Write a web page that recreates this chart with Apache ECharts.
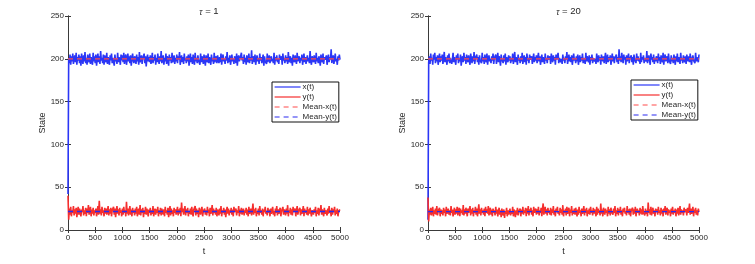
<!DOCTYPE html>
<html>
<head>
<meta charset="utf-8">
<script src="https://cdn.jsdelivr.net/npm/echarts@6/dist/echarts.min.js"></script>
<style>html,body{margin:0;padding:0;background:#fff}#c{width:755px;height:264px}</style>
</head>
<body>
<div id="c"></div>
<script>
// Sample step of the simulated time series (t = index * step)
var timeStep = 12.5;
var titles = ['1', '20'];
var xTicks = ['0','500','1000','1500','2000','2500','3000','3500','4000','4500','5000'];
var yTicks = ['0','50','100','150','200','250'];
var seriesNames = ['x(t)', 'y(t)', 'Mean-x(t)', 'Mean-y(t)'];

// tau = 1
var x1 = [42,
201,195,205,193,203,197,206,194,200,204,196,207,193,202,198,205,195,203,192,206,
199,194,204,197,208,195,201,193,205,199,196,206,194,202,200,193,207,197,203,195,
205,192,200,206,196,203,194,209,198,201,195,205,193,204,199,196,207,194,202,197,
193,204,198,206,195,201,203,192,205,197,200,194,207,196,202,199,193,205,198,204,
196,207,194,201,205,193,200,206,197,203,195,204,192,199,206,198,195,203,200,194,
205,197,202,193,208,196,200,204,194,201,199,206,195,203,191,200,205,197,202,196,
204,194,199,207,195,202,198,205,193,201,196,206,199,194,203,197,209,195,200,204,
193,201,197,206,194,203,199,192,205,198,202,195,207,196,200,204,194,201,197,205,
195,203,199,208,193,200,204,196,202,194,206,198,201,195,203,197,205,192,199,206,
196,202,194,205,199,193,207,197,201,195,204,198,200,193,206,196,203,199,194,205,
198,192,204,200,196,206,195,202,199,193,205,197,201,194,207,196,200,203,195,204,
199,195,202,196,206,193,201,205,197,200,194,203,198,208,195,201,196,204,193,199,
205,197,200,194,203,199,195,206,192,201,204,197,199,195,207,198,202,194,205,196,
201,193,204,199,196,206,195,202,198,210,194,200,203,196,205,193,199,204,197,201,
194,206,198,202,195,200,205,192,203,197,199,194,206,196,201,204,195,199,203,197,
200,195,207,193,202,198,204,196,200,194,205,199,197,203,193,206,198,201,195,204,
197,202,194,208,196,200,203,195,201,192,205,199,196,204,198,194,207,197,200,203,
195,201,198,205,193,200,206,196,202,194,199,204,197,201,195,209,198,193,203,200,
196,204,199,194,207,197,201,195,203,198,192,205,200,196,206,194,202,199,197,204,
193,200,205,196,202,199,211,195,201,204,194,199,206,197,200,193,203,198,205,199];
var y1 = [40,
12,25,18,27,16,23,20,28,17,24,19,26,15,22,27,18,25,20,16,24,
21,28,17,23,19,26,16,25,20,29,18,22,27,16,24,19,26,17,23,20,
25,16,22,28,18,34,19,24,17,27,20,23,16,26,19,25,18,22,28,17,
24,19,26,16,23,21,27,18,25,15,22,28,19,24,17,26,20,23,16,25,
18,27,20,23,16,33,19,25,17,22,28,18,24,16,26,20,23,17,25,19,
27,16,22,25,18,29,17,24,20,26,15,23,19,27,18,25,21,16,24,20,
26,17,23,19,28,16,22,25,18,24,20,27,16,23,19,26,17,25,21,18,
24,16,27,20,23,18,26,15,22,28,17,25,19,23,16,26,20,24,18,22,
27,17,24,19,26,16,32,21,25,18,23,28,17,24,20,26,16,22,19,25,
18,27,20,16,24,22,28,17,25,19,23,15,26,21,18,24,27,16,22,20,
25,18,23,17,27,20,24,16,26,19,22,29,17,25,20,23,18,26,16,24,
21,17,25,19,28,16,23,20,26,18,24,15,22,27,19,25,17,23,20,26,
18,24,16,27,21,19,25,17,23,20,28,16,24,19,26,18,22,25,17,23,
20,26,18,24,16,27,19,22,25,17,23,31,18,24,20,26,16,22,19,25,
17,28,20,23,18,25,16,24,21,27,19,22,17,26,20,24,16,25,19,23,
27,18,22,16,25,20,28,17,24,19,23,26,16,22,20,27,18,24,21,17,
25,19,29,16,23,20,26,18,24,17,27,21,19,25,16,23,28,18,22,20,
26,17,24,19,22,28,16,25,20,23,18,27,17,24,19,26,21,16,23,25,
18,24,20,27,16,23,19,26,17,25,22,29,18,24,20,16,26,19,23,21,
17,25,19,28,20,23,16,26,18,24,21,27,17,23,19,25,16,22,20,24];
// tau = 20
var x2 = [12,
196,203,194,206,198,201,193,205,199,207,195,202,197,204,193,200,206,196,203,198,
205,194,200,208,196,202,199,193,204,197,206,195,201,203,194,199,207,196,202,198,
193,204,199,206,195,201,197,205,192,200,203,196,207,198,202,194,205,199,196,204,
198,193,206,200,195,203,197,208,194,201,199,205,196,202,193,204,198,200,195,207,
197,202,194,205,199,196,206,193,201,204,197,200,195,203,198,206,194,201,199,205,
194,200,207,196,203,198,192,205,199,201,195,204,197,206,193,202,200,196,204,198,
203,195,201,197,206,194,200,208,196,202,199,193,205,198,201,195,203,197,207,194,
200,204,196,202,193,206,198,201,195,205,199,197,203,194,200,206,196,202,198,204,
195,201,207,197,203,193,199,205,196,202,200,194,206,198,201,195,204,199,197,203,
194,206,200,196,204,198,202,193,205,199,197,207,195,201,203,196,200,194,205,198,
201,195,203,199,208,194,200,205,197,202,196,204,193,199,206,198,201,195,203,197,
205,193,200,204,196,202,198,206,195,201,199,194,207,197,203,200,196,204,193,202,
198,205,195,201,203,197,200,194,206,199,196,204,198,202,193,205,200,197,203,195,
201,207,194,199,205,196,202,198,204,193,200,206,197,203,195,201,199,205,196,202,
194,211,198,203,196,207,200,195,205,199,202,193,204,197,201,206,195,200,198,204,
196,202,193,205,199,201,195,206,198,203,197,200,194,207,196,202,199,204,195,201,
203,197,209,195,200,204,198,193,206,199,202,196,205,194,201,197,203,200,195,206,
198,202,194,204,200,196,207,193,201,205,197,199,203,195,206,198,200,194,204,197,
201,195,205,199,193,203,197,206,196,202,200,194,207,198,201,195,204,199,196,203,
194,205,200,197,203,196,206,199,193,201,204,198,200,195,207,197,202,199,196,205];
var y2 = [38,
10,24,18,26,17,22,27,16,23,19,25,18,28,17,22,20,26,16,24,19,
23,17,26,20,24,16,27,19,22,25,18,23,17,28,20,24,16,21,26,18,
24,19,27,17,22,26,16,25,20,23,18,29,17,24,19,26,21,16,25,20,
22,28,17,24,19,26,16,23,20,27,18,25,16,22,30,19,24,17,26,20,
23,18,25,16,27,20,24,19,28,17,22,26,18,24,16,25,20,23,17,27,
19,24,16,22,26,18,23,15,25,20,17,24,14,22,19,26,16,23,18,21,
25,17,22,19,27,16,24,20,15,23,18,26,17,22,20,25,16,24,19,27,
18,23,20,26,16,25,19,28,17,24,21,26,18,23,16,27,20,22,25,18,
24,19,27,17,23,20,26,16,25,31,18,22,27,19,24,17,26,20,23,18,
26,17,24,20,28,18,23,16,25,21,27,19,22,17,26,20,24,18,29,16,
23,20,25,17,27,19,22,26,16,24,20,28,17,23,19,25,18,26,21,16,
24,18,27,20,23,16,25,19,22,28,17,24,20,26,16,23,19,25,18,27,
20,23,17,26,19,24,21,16,27,18,25,20,23,17,31,19,24,16,26,21,
18,25,20,23,16,27,19,24,17,26,21,22,18,25,20,28,16,23,19,26,
17,24,20,27,18,23,16,25,21,26,19,22,17,28,20,24,18,25,16,23,
21,26,18,24,19,27,16,22,25,20,23,17,26,19,24,18,28,20,22,17,
25,19,23,16,32,20,24,18,27,17,22,26,19,23,16,25,21,24,18,27,
20,23,17,26,19,24,16,25,21,28,18,22,26,17,24,20,23,16,25,19,
27,18,23,20,25,16,24,19,26,17,22,28,18,24,20,23,17,26,21,19,
24,17,26,20,23,31,18,25,19,22,27,16,24,20,26,18,23,17,25,21];
var meanX = [199.8, 199.9];
var meanY = [21.6, 21.5];
var tEnd = 5000;

var panels = [{x: x1, y: y1}, {x: x2, y: y2}];
var grids = [{left: 68, top: 16, width: 272, height: 214}, {left: 428, top: 16, width: 271, height: 214}];
var legendPos = [{left: 272, top: 82}, {left: 631, top: 80}];

var BLUE = '#2b36f6', RED = '#f52e2e';
var AX = '#3a3a3a', TXT = '#262626', FONT = 'Liberation Sans, Arial, sans-serif';

function pairs(arr) { return arr.map(function (v, i) { return [i * timeStep, v]; }); }

var option = {
  animation: false,
  backgroundColor: '#fff',
  textStyle: {fontFamily: FONT},
  title: [], grid: grids, xAxis: [], yAxis: [], series: [], legend: []
};

panels.forEach(function (p, k) {
  var g = grids[k];
  option.title.push({
    text: '{i|τ} = ' + titles[k], left: g.left + g.width / 2, top: 0, textAlign: 'center',
    textStyle: {fontSize: 9.5, fontWeight: 'normal', color: TXT, fontFamily: FONT,
      rich: {i: {fontStyle: 'italic', fontSize: 8.5, color: TXT, fontFamily: FONT, padding: [3, 0, 0, 0]}}}
  });
  var xbase = {type: 'value', gridIndex: k, min: 0, max: tEnd, interval: 500,
    axisLine: {lineStyle: {color: AX, width: 1}}, splitLine: {show: false},
    axisTick: {inside: true, length: 3, lineStyle: {color: AX}}};
  option.xAxis.push(Object.assign({}, xbase, {position: 'bottom', name: 't', nameLocation: 'middle', nameGap: 16,
    nameTextStyle: {fontSize: 9, color: TXT, fontFamily: FONT},
    axisLabel: {fontSize: 8, color: TXT, margin: 4, fontFamily: FONT,
      formatter: function (v) { return xTicks[Math.round(v / 500)]; }}}));
  option.xAxis.push(Object.assign({}, xbase, {position: 'top', axisLabel: {show: false}}));
  var ybase = {type: 'value', gridIndex: k, min: 0, max: 250, interval: 50,
    axisLine: {show: true, lineStyle: {color: AX, width: 1}}, splitLine: {show: false},
    axisTick: {show: true, inside: true, length: 3, lineStyle: {color: AX}}};
  option.yAxis.push(Object.assign({}, ybase, {position: 'left', name: 'State', nameLocation: 'middle', nameGap: 21,
    nameTextStyle: {fontSize: 9, color: TXT, fontFamily: FONT},
    axisLabel: {fontSize: 8, color: TXT, margin: 4, fontFamily: FONT,
      formatter: function (v) { return yTicks[Math.round(v / 50)]; }}}));
  option.yAxis.push(Object.assign({}, ybase, {position: 'right', axisLabel: {show: false}}));

  var xi = k * 2, yi = k * 2;
  option.series.push({name: seriesNames[0], type: 'line', xAxisIndex: xi, yAxisIndex: yi, data: pairs(p.x),
    showSymbol: false, symbol: 'none', lineStyle: {color: BLUE, width: 1.6}, itemStyle: {color: BLUE}});
  option.series.push({name: seriesNames[1], type: 'line', xAxisIndex: xi, yAxisIndex: yi, data: pairs(p.y),
    showSymbol: false, symbol: 'none', lineStyle: {color: RED, width: 1.6}, itemStyle: {color: RED}});
  option.series.push({name: seriesNames[2], type: 'line', xAxisIndex: xi, yAxisIndex: yi,
    data: [[0, meanX[k]], [tEnd, meanX[k]]], symbol: 'none',
    lineStyle: {color: '#ff4a4a', width: 1.3, type: [5, 4]}, itemStyle: {color: '#ff4a4a'}});
  option.series.push({name: seriesNames[3], type: 'line', xAxisIndex: xi, yAxisIndex: yi,
    data: [[0, meanY[k]], [tEnd, meanY[k]]], symbol: 'none',
    lineStyle: {color: '#2a2af0', width: 1.3, type: [5, 4]}, itemStyle: {color: '#2a2af0'}});

  option.legend.push({
    data: seriesNames, orient: 'vertical', left: legendPos[k].left, top: legendPos[k].top,
    padding: [1, 2, 1, 2], itemGap: 2, itemWidth: 26, itemHeight: 9,
    backgroundColor: '#fff', borderColor: '#111', borderWidth: 1, borderRadius: 0,
    selectedMode: false,
    itemStyle: {opacity: 0},
    lineStyle: {width: 1.2},
    textStyle: {fontSize: 8, color: TXT, padding: [0, 0, 0, -3], fontFamily: FONT}
  });
});

var chart = echarts.init(document.getElementById('c'), null, {renderer: 'canvas'});
chart.setOption(option);
</script>
</body>
</html>
